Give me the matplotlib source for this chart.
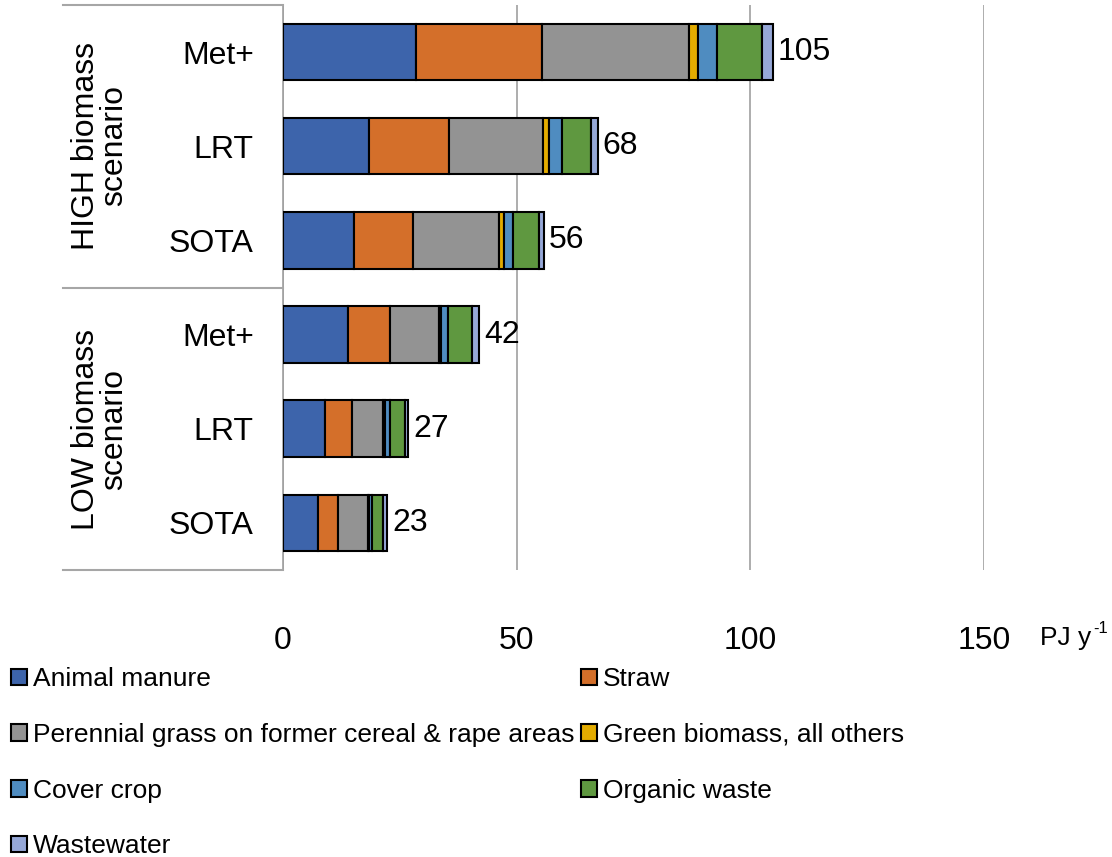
import matplotlib
matplotlib.use("Agg")
import matplotlib.pyplot as plt
from matplotlib.lines import Line2D
import numpy as np

plt.rcParams['font.family'] = ['Liberation Sans', 'DejaVu Sans']

categories = ["Met+", "LRT", "SOTA", "Met+", "LRT", "SOTA"]
groups = ["HIGH biomass\nscenario", "LOW biomass\nscenario"]
series_names = ["Animal manure", "Straw",
                "Perennial grass on former cereal & rape areas",
                "Green biomass, all others", "Cover crop", "Organic waste",
                "Wastewater"]
manure = [28.5, 18.3, 15.1, 14.0, 9.0, 7.4]
straw = [26.9, 17.3, 12.7, 9.0, 5.7, 4.3]
grass = [31.4, 20.1, 18.4, 10.4, 6.8, 6.4]
green = [2.1, 1.3, 1.0, 0.4, 0.3, 0.3]
cover = [3.9, 2.6, 2.1, 1.5, 1.0, 0.7]
organic = [9.8, 6.4, 5.4, 5.2, 3.2, 2.4]
wastewater = [2.3, 1.3, 1.1, 1.5, 0.8, 0.8]
totals = [105, 68, 56, 42, 27, 23]
xticks = [0, 50, 100, 150]
colors = ["#3D64AB", "#D46F2A", "#939393", "#E3AC00", "#4F8CC0", "#5F9840", "#96A8D8"]

series = [manure, straw, grass, green, cover, organic, wastewater]

W, H = 1112, 857
fig = plt.figure(figsize=(W / 100, H / 100), dpi=100)
ax = fig.add_axes([283 / W, 1 - 570 / H, (984 - 283) / W, (570 - 5) / H])

y = np.arange(len(categories))
left = np.zeros(len(categories))
handles = []
for name, vals, c in zip(series_names, series, colors):
    b = ax.barh(y, vals, left=left, height=0.6, color=c, edgecolor="black",
                linewidth=1.5, label=name, zorder=3)
    handles.append(b)
    left = left + np.array(vals)

for yi, end, t in zip(y, left, totals):
    ax.text(end + 1.0, yi, str(t), va="center", ha="left", fontsize=23, zorder=4)

ax.set_xlim(0, 150)
ax.set_ylim(len(categories) - 0.5, -0.5)
ax.set_xticks(xticks)
ax.set_xticklabels([str(v) for v in xticks], fontsize=23)
ax.set_yticks(y)
ax.set_yticklabels(categories, fontsize=23)
ax.tick_params(axis="x", length=0, pad=40)
ax.tick_params(axis="y", length=0, pad=21)
ax.xaxis.grid(True, color="#A0A0A0", linewidth=1.2, zorder=0)
for s in ["top", "right", "bottom"]:
    ax.spines[s].set_visible(False)
ax.spines["left"].set_color("#A0A0A0")
ax.spines["left"].set_linewidth(1.2)

# unit label
fig.text(1040 / W, 1 - 645 / H, "PJ y", fontsize=19, ha="left", va="baseline")
fig.text(1093 / W, 1 - 633 / H, "-1", fontsize=12, ha="left", va="baseline")

# group separators
lc = "#A6A6A6"
for yy in [5, 288, 570]:
    fig.add_artist(Line2D([63 / W, 283 / W], [1 - yy / H, 1 - yy / H],
                          color=lc, linewidth=1.5, transform=fig.transFigure))
fig.text(100 / W, 1 - 146 / H, groups[0], rotation=90, ha="center", va="center",
         fontsize=23, multialignment="center", linespacing=0.95)
fig.text(100 / W, 1 - 430 / H, groups[1], rotation=90, ha="center", va="center",
         fontsize=23, multialignment="center", linespacing=0.95)

order = [0, 2, 4, 6, 1, 3, 5]
leg = fig.legend([handles[i] for i in order], [series_names[i] for i in order],
                 ncol=2, loc="upper left", bbox_to_anchor=(-2 / W, 1 - 654 / H),
                 frameon=False, fontsize=19, handlelength=0.6, handleheight=0.6,
                 handletextpad=0.22, columnspacing=0.25, labelspacing=1.2,
                 borderpad=0)

fig.savefig("out.png", dpi=100)
